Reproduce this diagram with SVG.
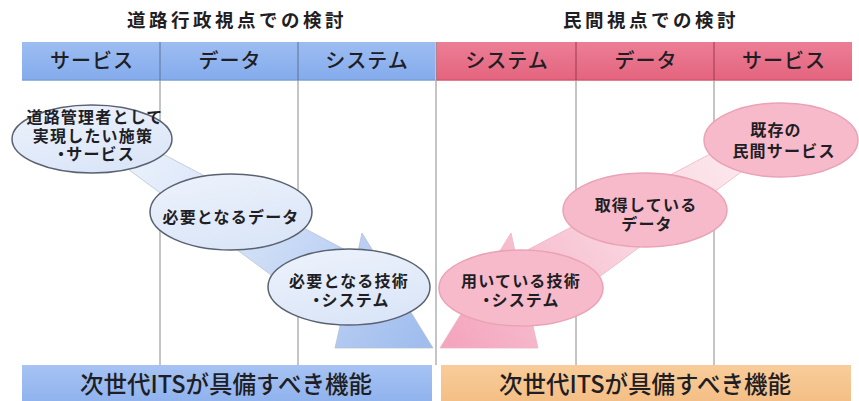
<svg xmlns="http://www.w3.org/2000/svg" width="859" height="401" viewBox="0 0 859 401">
<style>
  text { font-family: "Noto Sans CJK JP", "Noto Sans CJK SC", sans-serif; fill: #1e1e24; text-anchor: middle; }
  .title { font-size: 18.5px; font-weight: bold; letter-spacing: 3.5px; }
  .head { font-size: 20px; font-weight: 500; letter-spacing: 1px; }
  .node { font-size: 16px; font-weight: bold; letter-spacing: 1.2px; }
  .foot { font-size: 23.5px; font-weight: 500; }
  .grid { stroke: #8a8a8a; stroke-width: 1; fill: none; }
  .eb { fill: url(#eBlue); stroke: #5a6270; stroke-width: 1.5; }
  .ep { fill: #f6bacb; stroke: #eaa2b6; stroke-width: 1.5; }
</style>
<defs>
  <linearGradient id="hBlue" x1="0" y1="0" x2="0" y2="1">
    <stop offset="0" stop-color="#9dbdf2"/>
    <stop offset="1" stop-color="#84abec"/>
  </linearGradient>
  <linearGradient id="hPink" x1="0" y1="0" x2="0" y2="1">
    <stop offset="0" stop-color="#ec7e96"/>
    <stop offset="1" stop-color="#e4647e"/>
  </linearGradient>
  <linearGradient id="fBlue" x1="0" y1="0" x2="0" y2="1">
    <stop offset="0" stop-color="#a6c3f3"/>
    <stop offset="1" stop-color="#90b3ee"/>
  </linearGradient>
  <linearGradient id="fOrange" x1="0" y1="0" x2="0" y2="1">
    <stop offset="0" stop-color="#f8cc9a"/>
    <stop offset="1" stop-color="#f4bf86"/>
  </linearGradient>
  <linearGradient id="eBlue" x1="0" y1="0" x2="0.4" y2="1">
    <stop offset="0" stop-color="#eef3fc"/>
    <stop offset="1" stop-color="#dbe6f8"/>
  </linearGradient>
  <linearGradient id="aBlue" gradientUnits="userSpaceOnUse" x1="95" y1="130" x2="420" y2="345">
    <stop offset="0" stop-color="#f2f6fd"/>
    <stop offset="0.5" stop-color="#d0dff7"/>
    <stop offset="1" stop-color="#a0bdee"/>
  </linearGradient>
  <linearGradient id="aPink" gradientUnits="userSpaceOnUse" x1="95" y1="130" x2="420" y2="345">
    <stop offset="0" stop-color="#fdeef2"/>
    <stop offset="0.5" stop-color="#f9d2dd"/>
    <stop offset="1" stop-color="#f4a6be"/>
  </linearGradient>
</defs>

<rect x="0" y="0" width="859" height="401" fill="#ffffff"/>

<g id="titles">
  <text class="title" x="237" y="27">道路行政視点での検討</text>
  <text class="title" x="651" y="27">民間視点での検討</text>
</g>

<g id="header-road">
  <rect x="22" y="42" width="413" height="38" fill="url(#hBlue)"/>
  <line x1="22" y1="80" x2="435" y2="80" stroke="#7a9fd8" stroke-width="1.5"/>
  <line x1="160" y1="42" x2="160" y2="80" stroke="#5e7096" stroke-width="1"/>
  <line x1="298" y1="42" x2="298" y2="80" stroke="#5e7096" stroke-width="1"/>
  <text class="head" x="92" y="68">サービス</text>
  <text class="head" x="230" y="68">データ</text>
  <text class="head" x="367" y="68">システム</text>
</g>

<g id="header-private">
  <rect x="436" y="42" width="416" height="38" fill="url(#hPink)"/>
  <line x1="436" y1="80" x2="852" y2="80" stroke="#d9566f" stroke-width="1.5"/>
  <line x1="576" y1="42" x2="576" y2="80" stroke="#9a3a50" stroke-width="1"/>
  <line x1="714" y1="42" x2="714" y2="80" stroke="#9a3a50" stroke-width="1"/>
  <text class="head" x="507" y="68">システム</text>
  <text class="head" x="646" y="68">データ</text>
  <text class="head" x="784" y="68">サービス</text>
</g>

<g id="grid-lines">
  <line class="grid" x1="160" y1="80" x2="160" y2="365"/>
  <line class="grid" x1="298" y1="80" x2="298" y2="365"/>
  <line class="grid" x1="436" y1="42" x2="436" y2="365"/>
  <line class="grid" x1="576" y1="80" x2="576" y2="365"/>
  <line class="grid" x1="714" y1="80" x2="714" y2="365"/>
</g>

<g id="connectors">
  <polygon id="arrow-road" points="100,121 357,256 362,233 433,348 335,348 340,326 90,141" fill="url(#aBlue)" stroke="#b4bccb" stroke-width="1" stroke-opacity="0.7"/>
  <polygon id="arrow-private" transform="matrix(-1,0,0,1,873,0)" points="100,121 357,256 362,233 433,348 335,348 340,326 90,141" fill="url(#aPink)" stroke="#eeb4c4" stroke-width="1" stroke-opacity="0.8"/>
</g>

<g id="node-road-service">
  <ellipse class="eb" cx="92" cy="139" rx="80" ry="34"/>
  <text class="node"><tspan x="95" y="123">道路管理者として</tspan><tspan x="93" y="142">実現したい施策</tspan><tspan x="94" y="160" dx="0 -4">・サービス</tspan></text>
</g>
<g id="node-road-data">
  <ellipse class="eb" cx="231" cy="212" rx="81" ry="38"/>
  <text class="node" x="231" y="223">必要となるデータ</text>
</g>
<g id="node-road-system">
  <ellipse class="eb" cx="349" cy="287" rx="81" ry="38"/>
  <text class="node"><tspan x="349" y="287">必要となる技術</tspan><tspan x="349" y="306" dx="0 -4">・システム</tspan></text>
</g>

<g id="node-private-service">
  <ellipse class="ep" cx="781" cy="140" rx="77" ry="37"/>
  <text class="node"><tspan x="776" y="136">既存の</tspan><tspan x="784" y="157">民間サービス</tspan></text>
</g>
<g id="node-private-data">
  <ellipse class="ep" cx="645" cy="210" rx="82" ry="37"/>
  <text class="node"><tspan x="646" y="211">取得している</tspan><tspan x="647" y="230">データ</tspan></text>
</g>
<g id="node-private-system">
  <ellipse class="ep" cx="521" cy="288" rx="82" ry="38"/>
  <text class="node"><tspan x="521" y="287">用いている技術</tspan><tspan x="519" y="306" dx="0 -4">・システム</tspan></text>
</g>

<g id="footer-road">
  <rect x="22" y="365" width="410" height="36" fill="url(#fBlue)"/>
  <text class="foot" x="226" y="393">次世代ITSが具備すべき機能</text>
</g>
<g id="footer-private">
  <rect x="441" y="365" width="410" height="36" fill="url(#fOrange)"/>
  <text class="foot" x="645" y="393">次世代ITSが具備すべき機能</text>
</g>
</svg>
